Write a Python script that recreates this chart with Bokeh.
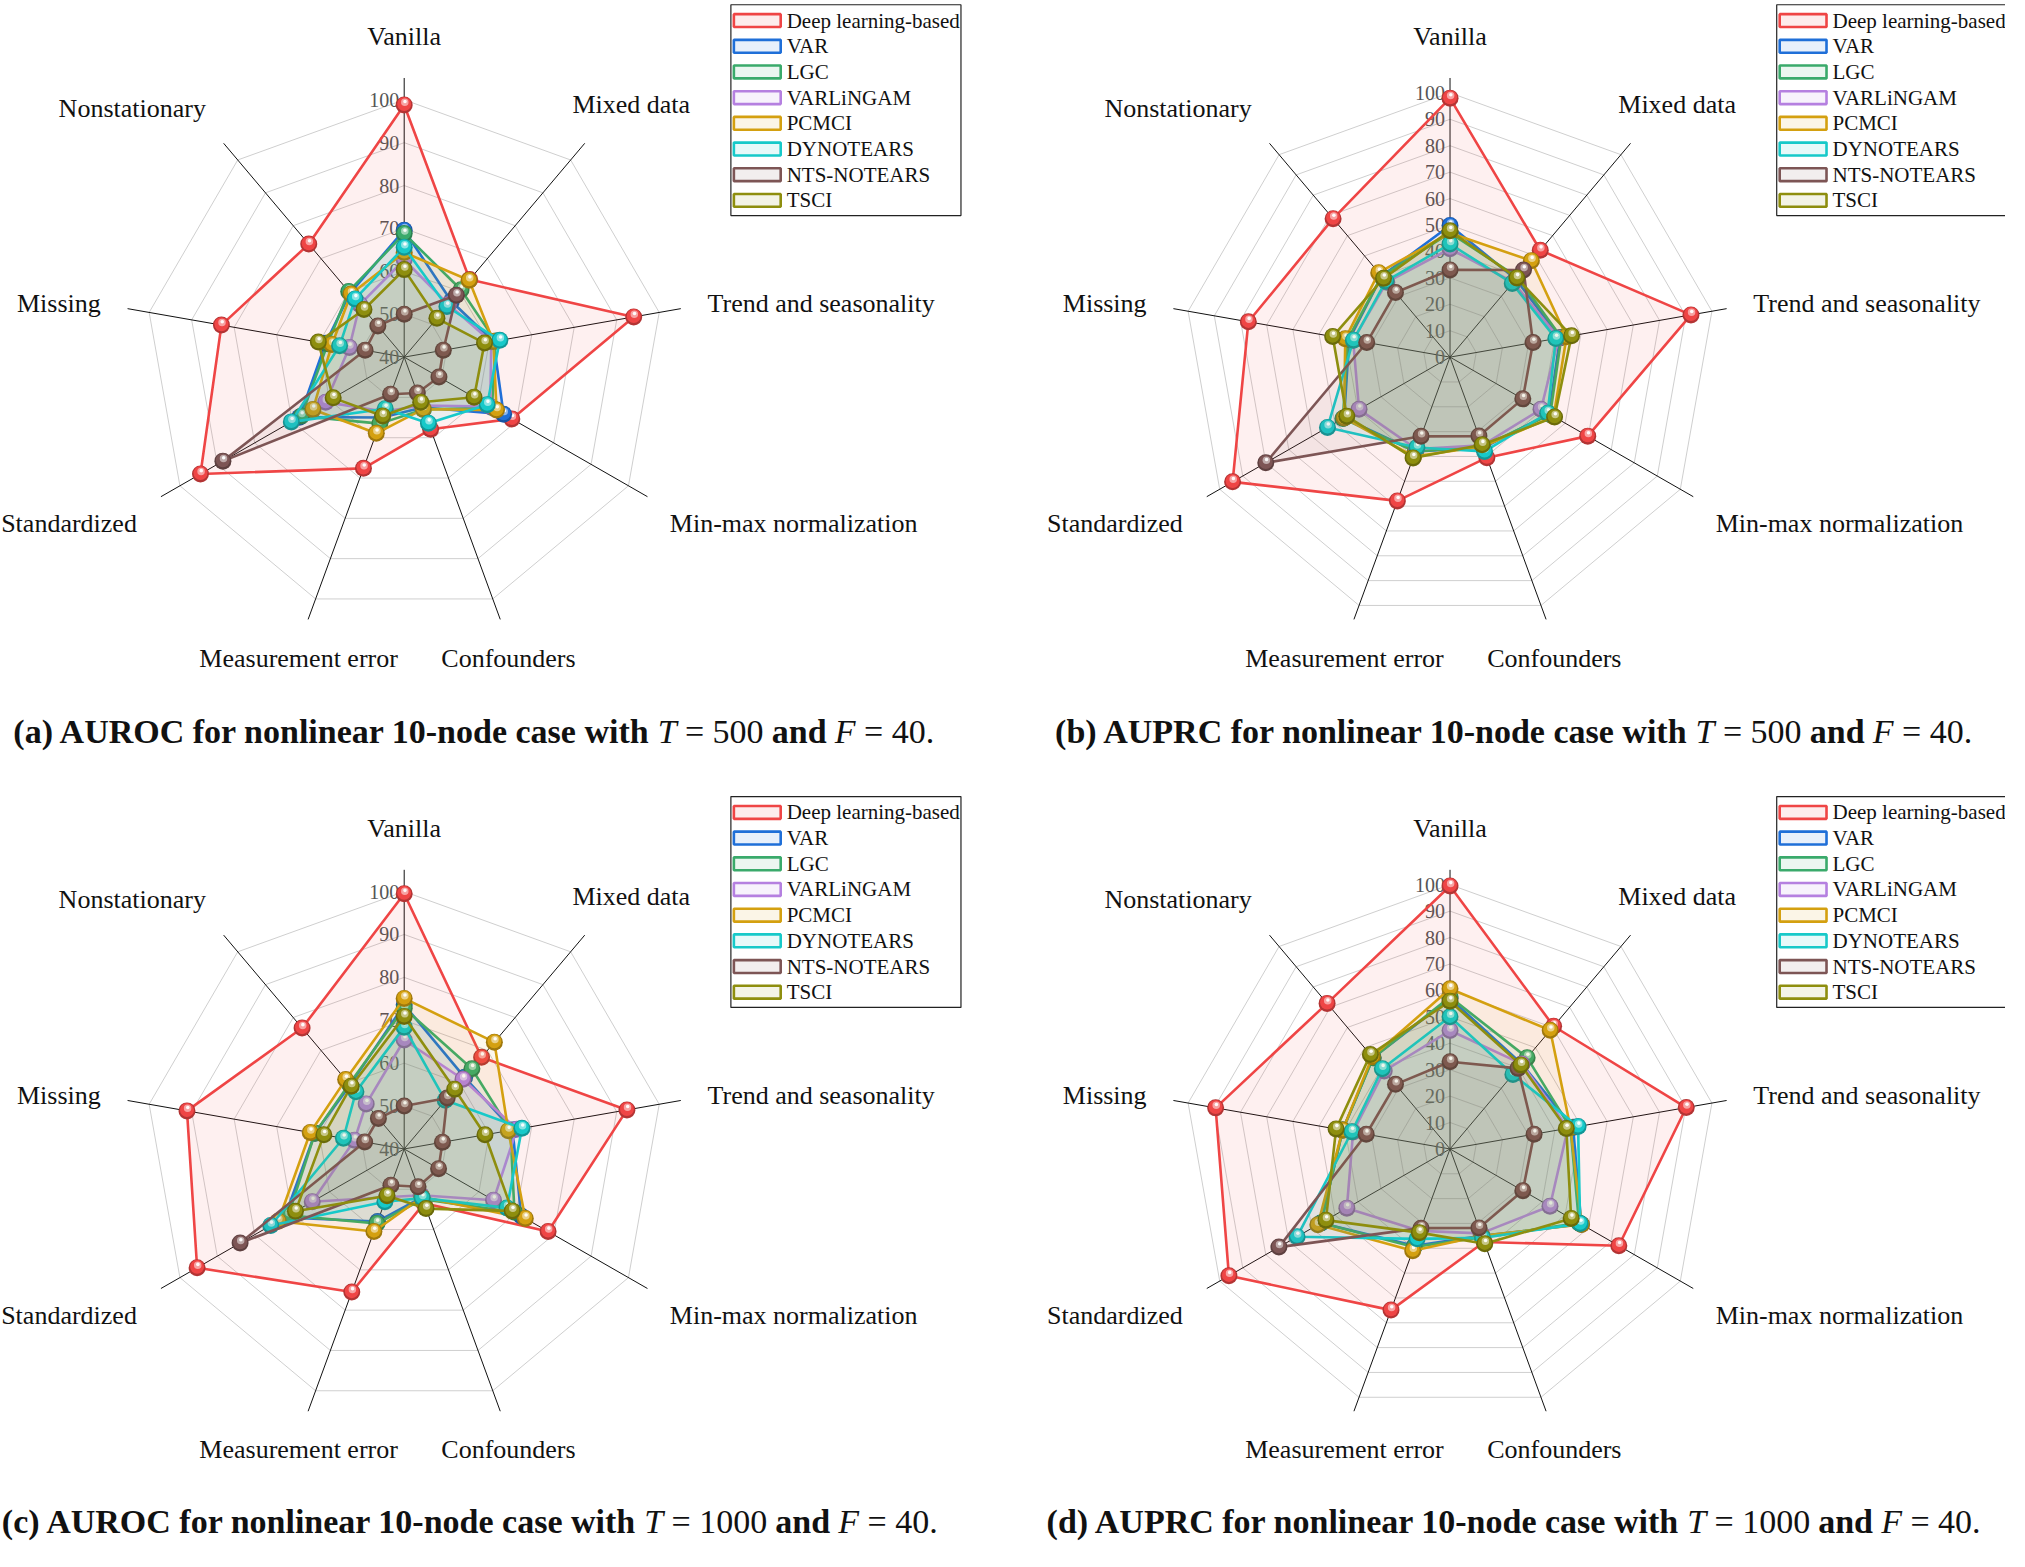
import math
from bokeh.plotting import figure
from bokeh.models import Range1d
from bokeh.core.properties import value
from bokeh.embed import file_html
from bokeh.resources import INLINE

# ---------------- data ----------------
axis_names = ["Vanilla", "Mixed data", "Trend and seasonality", "Min-max normalization",
              "Confounders", "Measurement error", "Standardized", "Missing", "Nonstationary"]
methods = ["Deep learning-based", "VAR", "LGC", "VARLiNGAM", "PCMCI", "DYNOTEARS", "NTS-NOTEARS", "TSCI"]
colors = ["#ef4545", "#1f6fd8", "#3aaa6b", "#b580e0", "#d4a010", "#17c9c9", "#7d5555", "#8e8e0e"]

ticks_auroc = [40, 50, 60, 70, 80, 90, 100]
ticks_auprc = [0, 10, 20, 30, 40, 50, 60, 70, 80, 90, 100]

# (a) AUROC, T = 500
a_dl   = [98.8, 63.6, 94.0, 68.8, 57.9, 67.6, 94.5, 83.0, 74.4]
a_var  = [69.6, 57.0, 61.0, 66.6, 52.5, 55.0, 68.0, 58.5, 59.5]
a_lgc  = [68.8, 60.5, 61.5, 63.5, 53.0, 56.5, 67.5, 58.0, 60.0]
a_vl   = [62.7, 56.0, 60.5, 63.0, 52.0, 53.5, 61.0, 52.9, 56.0]
a_pc   = [64.4, 63.4, 61.0, 64.7, 52.9, 58.9, 64.4, 57.0, 59.2]
a_dyn  = [65.6, 55.4, 62.5, 62.2, 56.4, 52.8, 70.2, 55.2, 57.7]
a_nts  = [50.0, 58.8, 49.2, 49.3, 48.9, 49.2, 88.5, 49.2, 49.5]
a_tsci = [60.4, 51.8, 58.9, 58.7, 51.2, 54.6, 59.0, 60.2, 54.5]

# (b) AUPRC, T = 500
b_dl   = [98.0, 52.8, 92.0, 59.8, 40.5, 57.9, 94.4, 77.0, 68.4]
b_var  = [49.8, 38.5, 42.0, 43.0, 36.5, 38.0, 46.0, 38.5, 40.0]
b_lgc  = [47.0, 39.5, 42.5, 43.5, 36.0, 38.0, 46.5, 39.0, 40.0]
b_vl   = [41.0, 37.0, 41.5, 39.5, 35.5, 37.0, 39.5, 37.0, 37.0]
b_pc   = [47.0, 47.6, 44.5, 45.0, 36.0, 40.0, 46.0, 40.0, 41.7]
b_dyn  = [42.8, 36.4, 40.4, 42.4, 38.0, 36.4, 53.2, 36.9, 37.5]
b_nts  = [33.0, 43.0, 31.7, 31.6, 31.8, 31.9, 80.0, 31.8, 31.9]
b_tsci = [47.8, 39.1, 46.4, 45.4, 35.3, 40.6, 44.8, 44.8, 38.9]

# (c) AUROC, T = 1000
c_dl   = [99.5, 67.9, 92.4, 78.5, 53.5, 75.5, 95.4, 91.1, 76.8]
c_var  = [73.6, 61.8, 65.5, 71.3, 52.0, 58.0, 72.0, 61.0, 59.5]
c_lgc  = [72.8, 64.4, 65.0, 69.5, 52.5, 58.5, 71.0, 61.0, 59.8]
c_vl   = [65.4, 61.2, 66.5, 63.9, 51.5, 52.0, 64.6, 51.7, 53.7]
c_pc   = [75.1, 72.5, 64.5, 72.4, 52.0, 60.5, 73.7, 62.1, 61.1]
c_dyn  = [68.4, 54.8, 67.7, 67.5, 52.2, 53.1, 75.7, 54.3, 57.4]
c_nts  = [50.0, 55.5, 49.0, 49.2, 49.4, 49.0, 83.9, 49.3, 49.3]
c_tsci = [70.9, 58.2, 59.0, 68.9, 54.8, 51.6, 69.1, 58.9, 59.1]

# (d) AUPRC, T = 1000
d_dl   = [99.5, 60.6, 90.2, 73.3, 37.5, 64.9, 96.0, 89.5, 71.9]
d_var  = [57.0, 42.0, 47.0, 57.0, 35.0, 39.0, 56.0, 41.0, 45.0]
d_lgc  = [57.5, 45.1, 46.0, 56.0, 35.5, 39.5, 56.0, 41.0, 45.0]
d_vl   = [44.8, 42.0, 45.0, 43.4, 34.0, 33.0, 44.8, 37.0, 38.5]
d_pc   = [60.6, 58.6, 46.0, 57.1, 35.0, 41.0, 57.4, 41.0, 45.5]
d_dyn  = [50.0, 36.8, 48.9, 56.5, 35.8, 36.2, 66.4, 37.5, 39.6]
d_nts  = [33.0, 39.8, 32.1, 31.6, 31.8, 31.9, 74.3, 32.0, 31.9]
d_tsci = [55.9, 41.5, 44.4, 52.6, 38.2, 33.7, 53.9, 43.5, 46.6]

captions = [
    [("(a) AUROC for nonlinear 10-node case with ", "bold"), ("T", "italic"), (" = 500 ", "normal"),
     ("and ", "bold"), ("F", "italic"), (" = 40.", "normal")],
    [("(b) AUPRC for nonlinear 10-node case with ", "bold"), ("T", "italic"), (" = 500 ", "normal"),
     ("and ", "bold"), ("F", "italic"), (" = 40.", "normal")],
    [("(c) AUROC for nonlinear 10-node case with ", "bold"), ("T", "italic"), (" = 1000 ", "normal"),
     ("and ", "bold"), ("F", "italic"), (" = 40.", "normal")],
    [("(d) AUPRC for nonlinear 10-node case with ", "bold"), ("T", "italic"), (" = 1000 ", "normal"),
     ("and ", "bold"), ("F", "italic"), (" = 40.", "normal")],
]

# ---------------- helpers ----------------
FONT = "Liberation Serif"

BOLD_W = {' ': 250, '(': 333, ')': 333, '-': 333, '.': 250, '=': 570,
          'A': 722, 'C': 722, 'O': 778, 'P': 611, 'R': 722, 'U': 722,
          'a': 500, 'b': 556, 'c': 444, 'd': 556, 'e': 444, 'f': 333, 'h': 556, 'i': 278,
          'l': 278, 'n': 556, 'o': 500, 'r': 444, 's': 389, 't': 333, 'w': 722}
REG_W = {' ': 250, '=': 564, '.': 250}
ITAL_W = {'T': 556, 'F': 611}


def text_width(s, style, size):
    tot = 0
    for ch in s:
        if ch.isdigit():
            tot += 500
        elif style == "bold":
            tot += BOLD_W.get(ch, 500)
        elif style == "italic":
            tot += ITAL_W.get(ch, 500)
        else:
            tot += REG_W.get(ch, 500)
    return tot * size / 1000.0


def mix(c, t, target=(255, 255, 255)):
    r, g, b = int(c[1:3], 16), int(c[3:5], 16), int(c[5:7], 16)
    r = round(r + (target[0] - r) * t)
    g = round(g + (target[1] - g) * t)
    b = round(b + (target[2] - b) * t)
    return "#%02x%02x%02x" % (r, g, b)


W, H = 2005, 1549
p = figure(width=W, height=H, x_range=Range1d(3, 2016), y_range=Range1d(1568, 3),
           output_backend="svg", toolbar_location=None, min_border=0)
p.axis.visible = False
p.grid.visible = False
p.outline_line_color = None
p.background_fill_color = "white"
p.border_fill_color = "white"

N = len(axis_names)
angles = [math.radians(90 - 40 * i) for i in range(N)]
AXIS_LEN = 282
label_offsets = [(0, -324), (228, -255.5), (418.6, -54), (391, 168), (104.7, 304),
                 (-106, 304), (-336.5, 168), (-346.7, -54), (-273, -251.6)]


def draw_panel(cx, cy, series, vmin, vmax, R, ticks, caption, cap_cx, cap_y):
    def pt(i, v):
        r = (v - vmin) / (vmax - vmin) * R
        return cx + r * math.cos(angles[i]), cy - r * math.sin(angles[i])

    # grid rings
    rx, ry = [], []
    for t in ticks[1:]:
        xs, ys = zip(*[pt(i, t) for i in range(N)])
        rx.append(list(xs) + [xs[0]])
        ry.append(list(ys) + [ys[0]])
    p.multi_line(rx, ry, line_color="#cfcfcf", line_width=1)

    # axis lines
    p.segment(x0=[cx] * N, y0=[cy] * N,
              x1=[cx + AXIS_LEN * math.cos(a) for a in angles],
              y1=[cy - AXIS_LEN * math.sin(a) for a in angles],
              line_color="#111111", line_width=1)

    # tick labels
    tys = [pt(0, t)[1] for t in ticks]
    p.text(x=[cx - 5] * len(ticks), y=tys, text=[str(t) for t in ticks],
           text_font=value(FONT), text_font_size=value("20px"), text_color="#555555",
           text_align="right", text_baseline="middle")

    # series
    for k, vals in enumerate(series):
        col = colors[k]
        xs, ys = zip(*[pt(i, v) for i, v in enumerate(vals)])
        p.patch(list(xs), list(ys), fill_color=col, fill_alpha=0.08,
                line_color=col, line_width=2.6, line_join="round")
        p.scatter(list(xs), list(ys), size=17, fill_color=mix(col, 0.25, (0, 0, 0)),
                  line_color=None, marker="circle")
        p.scatter(list(xs), [y - 0.9 for y in ys], size=14, fill_color=col,
                  line_color=None, marker="circle")
        p.scatter([x + 0.6 for x in xs], [y - 2.6 for y in ys], size=7.5,
                  fill_color=mix(col, 0.5), line_color=None, marker="circle")
        p.scatter([x + 0.8 for x in xs], [y - 3.4 for y in ys], size=3.6,
                  fill_color="white", fill_alpha=0.95, line_color=None, marker="circle")

    # axis names
    p.text(x=[cx + dx for dx, dy in label_offsets], y=[cy + dy for dx, dy in label_offsets],
           text=axis_names, text_font=value(FONT), text_font_size=value("26px"),
           text_color="#111111", text_align="center", text_baseline="middle")

    # legend
    lx0, ly0 = cx + 328, cy - 356
    p.quad(left=[lx0], right=[lx0 + 231], top=[ly0], bottom=[ly0 + 213],
           fill_color="white", line_color="#222222", line_width=1.2)
    row_y = [cy - 340 + 25.95 * j for j in range(len(methods))]
    p.quad(left=[cx + 331] * len(methods), right=[cx + 378] * len(methods),
           top=[y - 6.5 for y in row_y], bottom=[y + 6.5 for y in row_y],
           fill_color=colors, fill_alpha=0.1, line_color=colors, line_width=2.6)
    p.text(x=[cx + 384] * len(methods), y=row_y, text=methods,
           text_font=value(FONT), text_font_size=value("21px"), text_color="#111111",
           text_align="left", text_baseline="middle")

    # caption (segments drawn one after another; edge spaces become gaps)
    size = 34
    total = sum(text_width(s, st, size) for s, st in caption)
    x = cap_cx - total / 2
    for s, st in caption:
        core = s.strip()
        lead = len(s) - len(s.lstrip())
        trail = len(s) - len(s.rstrip())
        sp = text_width(" ", st, size)
        x += lead * sp
        p.text(x=[x], y=[cap_y], text=[core], text_font=value(FONT),
               text_font_size=value("%dpx" % size), text_font_style=st,
               text_color="#111111", text_align="left", text_baseline="middle")
        x += text_width(core, st, size) + trail * sp


panels = [
    (408.3, 363.3, [a_dl, a_var, a_lgc, a_vl, a_pc, a_dyn, a_nts, a_tsci], 40, 100, 260, ticks_auroc, captions[0], 478, 741.7),
    (1458.3, 363.3, [b_dl, b_var, b_lgc, b_vl, b_pc, b_dyn, b_nts, b_tsci], 0, 100, 267, ticks_auprc, captions[1], 1522, 741.7),
    (408.3, 1163.3, [c_dl, c_var, c_lgc, c_vl, c_pc, c_dyn, c_nts, c_tsci], 40, 100, 260, ticks_auroc, captions[2], 474, 1539.5),
    (1458.3, 1163.3, [d_dl, d_var, d_lgc, d_vl, d_pc, d_dyn, d_nts, d_tsci], 0, 100, 267, ticks_auprc, captions[3], 1522, 1539.5),
]
for args in panels:
    draw_panel(*args)

open("out.html", "w").write(file_html(p, INLINE))
